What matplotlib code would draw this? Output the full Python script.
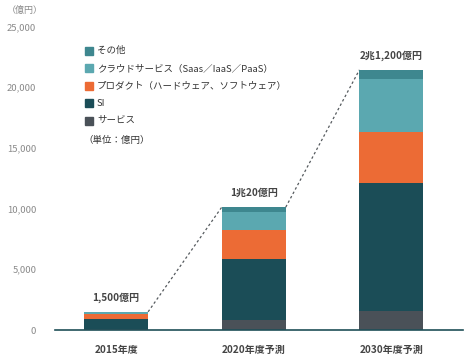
import matplotlib
matplotlib.use("Agg")
import matplotlib.pyplot as plt
from matplotlib.patches import Rectangle

plt.rcParams['font.family'] = ['Noto Sans CJK JP', 'DejaVu Sans']

categories = ["2015年度", "2020年度予測", "2030年度予測"]
series_names = ["サービス", "SI", "プロダクト（ハードウェア、ソフトウェア）",
                "クラウドサービス（Saas／IaaS／PaaS）", "その他"]
service = [50, 830, 1580]
si = [870, 5000, 10500]
product = [400, 2380, 4230]
cloud = [150, 1500, 4400]
other = [30, 410, 720]
total_labels = ["1,500億円", "1兆20億円", "2兆1,200億円"]
yticks = [0, 5000, 10000, 15000, 20000, 25000]
ytick_labels = ["0", "5,000", "10,000", "15,000", "20,000", "25,000"]

colors = ["#4a5158", "#1b4d57", "#ec6b35", "#5ba8b0", "#3e878f"]

W, H = 474, 360
fig = plt.figure(figsize=(W / 100, H / 100), dpi=100)
ax = fig.add_axes([55 / W, 1 - 330 / H, (463 - 55) / W, (330 - 26.5) / H])

x = list(range(len(categories)))
width = 0.465
series = [service, si, product, cloud, other]
bottoms = [0] * len(categories)
for vals, c in zip(series, colors):
    ax.bar(x, vals, width=width, bottom=bottoms, color=c, linewidth=0, zorder=2)
    bottoms = [b + v for b, v in zip(bottoms, vals)]
totals = bottoms

# dotted connectors
for i in range(len(categories) - 1):
    ax.plot([x[i] + width / 2, x[i + 1] - width / 2], [totals[i], totals[i + 1]],
            linestyle=(0, (2, 2)), color="#555a5e", linewidth=0.9, zorder=1)

# total labels
for i, lab in enumerate(total_labels):
    ax.annotate(lab, (x[i], totals[i]), xytext=(0, 6.5), textcoords="offset points",
                ha="center", va="bottom", fontsize=7.2, fontweight="bold", color="#444444")

ax.set_xlim(-0.444, 2.52)
ax.set_ylim(0, 25000)
ax.set_yticks(yticks)
ax.set_yticklabels(ytick_labels)
ax.set_xticks(x)
ax.set_xticklabels(categories)
ax.tick_params(axis="y", length=0, pad=13.5, labelsize=6.8, labelcolor="#8a8a8a")
ax.tick_params(axis="x", length=0, pad=10.5, labelsize=7.2, labelcolor="#444444")
for lbl in ax.get_xticklabels():
    lbl.set_fontweight("bold")
for s in ["top", "right", "left"]:
    ax.spines[s].set_visible(False)
ax.spines["bottom"].set_color("#1f4f58")
ax.spines["bottom"].set_linewidth(1.2)

fig.text(7 / W, 1 - 10 / H, "（億円）", fontsize=6.5, color="#8a8a8a", ha="left", va="center")

# legend (manual)
leg_rows = list(zip(series_names, colors))[::-1]
y0 = 50.7
for k, (name, c) in enumerate(leg_rows):
    yc = y0 + k * 17.5
    fig.patches.append(Rectangle((85 / W, 1 - (yc + 4) / H), 8 / W, 8 / H,
                                 transform=fig.transFigure, color=c, figure=fig))
    fig.text(97 / W, 1 - yc / H, name, fontsize=6.8, color="#333333", ha="left", va="center")
fig.text(83 / W, 1 - 140.7 / H, "（単位：億円）", fontsize=6.8, color="#333333",
         ha="left", va="center")

fig.savefig("out.png", dpi=100)
